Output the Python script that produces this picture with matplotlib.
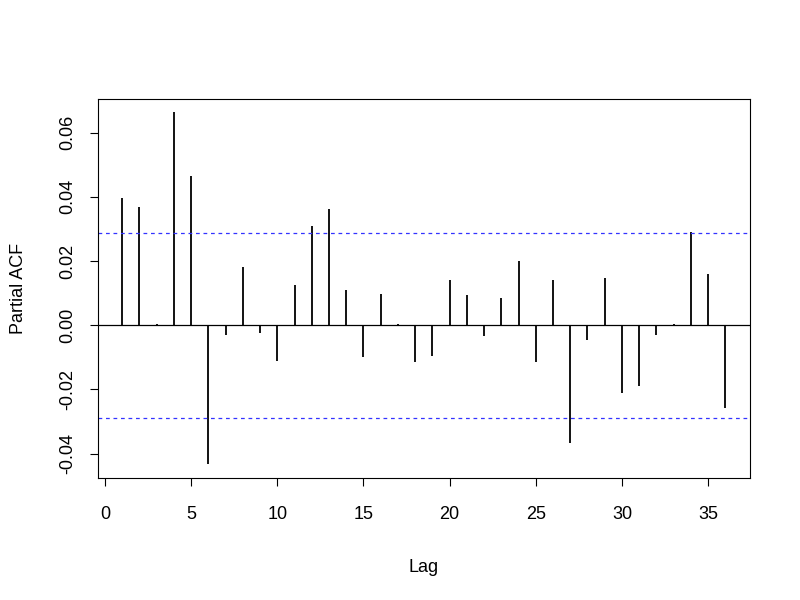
import matplotlib
matplotlib.use("Agg")
import matplotlib.pyplot as plt
import numpy as np

plt.rcParams['font.family'] = ['Liberation Sans', 'DejaVu Sans']

lags = list(range(1, 37))
pacf = [0.0397, 0.0368, 0.0004, 0.0663, 0.0464, -0.0432, -0.0030, 0.0181, -0.0023, -0.0111,
        0.0124, 0.0309, 0.0361, 0.0110, -0.0098, 0.0096, 0.0004, -0.0114, -0.0097, 0.0140,
        0.0095, -0.0032, 0.0084, 0.0201, -0.0114, 0.0142, -0.0368, -0.0045, 0.0148, -0.0210,
        -0.0189, -0.0030, 0.0004, 0.0291, 0.0161, -0.0257]
ci = 0.0288
xticks = [0, 5, 10, 15, 20, 25, 30, 35]
yticks = [-0.04, -0.02, 0.00, 0.02, 0.04, 0.06]
ytick_labels = ["-0.04", "-0.02", "0.00", "0.02", "0.04", "0.06"]

fig = plt.figure(figsize=(8, 6), dpi=100)
ax = fig.add_axes([98/800, 1-478/600, (750-98)/800, (478-99)/600])

ax.vlines(lags, 0, pacf, color='black', linewidth=1.3)
ax.axhline(0, color='black', linewidth=0.9)
ax.axhline(ci, color='#3333ff', linestyle=(0, (3, 3)), linewidth=0.9)
ax.axhline(-ci, color='#3333ff', linestyle=(0, (3, 3)), linewidth=0.9)

ax.set_xlim(-0.406, 37.43)
ax.set_ylim(-0.0476, 0.0705)
ax.set_xticks(xticks)
ax.set_xticklabels([str(t) for t in xticks], fontsize=13)
ax.set_yticks(yticks)
ax.set_yticklabels(ytick_labels, fontsize=13, rotation=90, va='center')
ax.tick_params(direction='out', length=6, width=0.8)
ax.tick_params(axis='x', pad=14)
ax.tick_params(axis='y', pad=10)
for s in ax.spines.values():
    s.set_linewidth(0.8)

ax.set_xlabel("Lag", fontsize=13, labelpad=26)
ax.set_ylabel("Partial ACF", fontsize=13, labelpad=23)

fig.savefig("out.png", dpi=100)
